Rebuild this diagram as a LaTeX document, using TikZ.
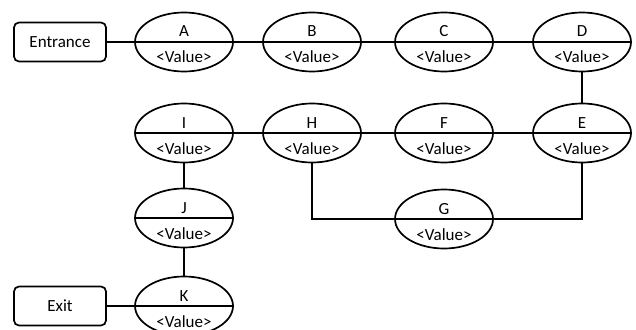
\documentclass[tikz,border=0pt]{standalone}
\usepackage{fontspec}
\setmainfont{Carlito}
\usetikzlibrary{shapes.geometric}
\tikzset{
  lbl/.style={font=\fontsize{17}{20}\selectfont, text=black, inner sep=0pt, anchor=base},
  stagebox/.style={ellipse, draw, line width=1.7pt, minimum width=98pt, minimum height=59pt, inner sep=0pt,
    path picture={\draw[line width=1.7pt] (path picture bounding box.west) -- (path picture bounding box.east);}},
  portbox/.style={draw, line width=1.7pt, rounded corners=5pt, minimum width=92pt, minimum height=39pt,
    font=\fontsize{17}{20}\selectfont, text=black},
  link/.style={line width=1.7pt}
}
% one split stage: name, position, title
\newcommand{\stagenode}[3]{%
  \node[stagebox] (#1) at (#2) {};
  \node[lbl] (#1t) at ([yshift=5pt]#1.center) {#3};
  \node[lbl] (#1v) at ([yshift=-21pt]#1.center) {<Value>};
}
\begin{document}
\begin{tikzpicture}[x=1pt, y=-1pt]
\useasboundingbox (0,0) rectangle (636,329);
\clip (0,0) rectangle (636,329);

\node[portbox] (entr) at (60,42) {Entrance};
\node[portbox] (exit) at (60,306) {Exit};

\stagenode{A}{184,42}{A}
\stagenode{B}{312,42}{B}
\stagenode{C}{444,42}{C}
\stagenode{D}{582,42}{D}
\stagenode{I}{184,133}{I}
\stagenode{H}{312,133}{H}
\stagenode{F}{444,133}{F}
\stagenode{E}{582,133}{E}
\stagenode{G}{444,219}{G}
\stagenode{J}{184,218}{J}
\stagenode{K}{184,306}{K}

\draw[link] (entr.east) -- (A.west);
\draw[link] (A.east) -- (B.west);
\draw[link] (B.east) -- (C.west);
\draw[link] (C.east) -- (D.west);
\draw[link] (D.south) -- (E.north);
\draw[link] (E.west) -- (F.east);
\draw[link] (F.west) -- (H.east);
\draw[link] (H.west) -- (I.east);
\draw[link] (I.south) -- (J.north);
\draw[link] (J.south) -- (K.north);
\draw[link] (K.west) -- (exit.east);
\draw[link] (H.south) |- (G.west);
\draw[link] (E.south) |- (G.east);
\end{tikzpicture}
\end{document}
